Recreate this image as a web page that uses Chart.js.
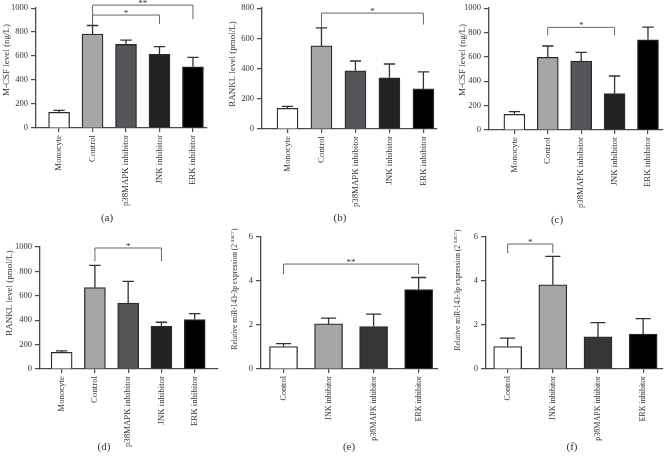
<!DOCTYPE html>
<html lang="en">
<head>
<meta charset="UTF-8">
<title>MAPK inhibitors - M-CSF, RANKL and miR-143-3p</title>
<script src="https://cdn.jsdelivr.net/npm/chart.js"></script>
<style>
    body { margin: 0; background: #ffffff; }
    .panel { position: absolute; }
</style>
</head>
<body>
<canvas id="chartA" class="panel" style="left:0px;top:0px"></canvas>
<canvas id="chartB" class="panel" style="left:225px;top:0px"></canvas>
<canvas id="chartC" class="panel" style="left:450px;top:0px"></canvas>
<canvas id="chartD" class="panel" style="left:0px;top:225px"></canvas>
<canvas id="chartE" class="panel" style="left:225px;top:225px"></canvas>
<canvas id="chartF" class="panel" style="left:450px;top:225px"></canvas>
<script>
// groups
const groups5 = ['Monocyte', 'Control', 'p38MAPK inhibitor', 'JNK inhibitor', 'ERK inhibitor'];
const groups4 = ['Control', 'JNK inhibitor', 'p38MAPK inhibitor', 'ERK inhibitor'];

// (a) M-CSF level (ng/L), mean and upper SD
const mcsfA = [131, 783, 697, 614, 511];
const mcsfASd = [16, 72, 36, 64, 78];
// (b) RANKL level (pmol/L)
const ranklB = [137, 550, 385, 339, 265];
const ranklBSd = [13, 119, 65, 91, 113];
// (c) M-CSF level (ng/L)
const mcsfC = [129, 596, 566, 298, 740];
const mcsfCSd = [21, 93, 71, 145, 104];
// (d) RANKL level (pmol/L)
const ranklD = [137, 667, 541, 350, 405];
const ranklDSd = [11, 183, 178, 33, 49];
// (e) relative miR-143-3p
const mirE = [1.02, 2.05, 1.93, 3.61];
const mirESd = [0.13, 0.26, 0.56, 0.55];
// (f) relative miR-143-3p
const mirF = [1.02, 3.83, 1.46, 1.59];
const mirFSd = [0.38, 1.29, 0.65, 0.70];

// significance brackets: [from, to, level, left end, right end, mark]
const sigA = [[1, 4, 1025, 858, 908, '**'], [1, 3, 942, 858, 867, '*']];
const sigB = [[1, 4, 767, 669, 691, '*']];
const sigC = [[1, 3, 842, 776, 776, '*']];
const sigD = [[1, 3, 992, 883, 883, '*']];
const sigE = [[0, 3, 4.77, 4.31, 4.31, '**']];
const sigF = [[0, 1, 5.68, 5.27, 5.27, '*']];

const fill5 = ['#ffffff', '#a6a6a6', '#55565a', '#222222', '#000000'];
const fill4 = ['#ffffff', '#a6a6a6', '#363638', '#000000'];

const serif = "'Liberation Serif', 'Times New Roman', serif";
const textColor = '#333333';
const axisColor = '#4a4a4a';

const panels = [
    { id: 'chartA', w: 225, h: 232, area: { left: 36, top: 8, right: 207, bottom: 128 }, xMin: -0.69, xMax: 4.42,
      yMax: 1000, yStep: 200, bar: 21, groups: groups5, values: mcsfA, sd: mcsfASd, colors: fill5, sig: sigA,
      title: 'M-CSF level (ng/L)', titleX: 7, titleY: 60, tag: '(a)', tagX: 107, tagY: 218, xFont: 8.8, titleFont: 9 },
    { id: 'chartB', w: 225, h: 232, area: { left: 37, top: 7, right: 212, bottom: 129 }, xMin: -0.75, xMax: 4.40,
      yMax: 800, yStep: 200, bar: 21, groups: groups5, values: ranklB, sd: ranklBSd, colors: fill5, sig: sigB,
      title: 'RANKL level (pmol/L)', titleX: 8, titleY: 64, tag: '(b)', tagX: 115, tagY: 218, xFont: 8.8, titleFont: 9 },
    { id: 'chartC', w: 221, h: 232, area: { left: 39, top: 8, right: 213, bottom: 130 }, xMin: -0.76, xMax: 4.45,
      yMax: 1000, yStep: 200, bar: 21, groups: groups5, values: mcsfC, sd: mcsfCSd, colors: fill5, sig: sigC,
      title: 'M-CSF level (ng/L)', titleX: 13, titleY: 60, tag: '(c)', tagX: 107, tagY: 220, xFont: 8.8, titleFont: 9 },
    { id: 'chartD', w: 225, h: 237, area: { left: 40, top: 22, right: 218, bottom: 144 }, xMin: -0.65, xMax: 4.70,
      yMax: 1000, yStep: 200, bar: 21, groups: groups5, values: ranklD, sd: ranklDSd, colors: fill5, sig: sigD,
      title: 'RANKL level (pmol/L)', titleX: 10, titleY: 68, tag: '(d)', tagX: 104, tagY: 222, xFont: 8.8, titleFont: 9 },
    { id: 'chartE', w: 225, h: 237, area: { left: 36, top: 12, right: 213, bottom: 144 }, xMin: -0.50, xMax: 3.43,
      yMax: 6, yStep: 2, bar: 28, groups: groups4, values: mirE, sd: mirESd, colors: fill4, sig: sigE,
      title: 'Relative miR-143-3p expression (2', sup: '-\u0394\u0394CT', titleEnd: ')', titleX: 10, titleY: 64,
      tag: '(e)', tagX: 124, tagY: 222, xFont: 8, titleFont: 7.5 },
    { id: 'chartF', w: 221, h: 237, area: { left: 36, top: 12, right: 213, bottom: 144 }, xMin: -0.48, xMax: 3.44,
      yMax: 6, yStep: 2, bar: 28, groups: groups4, values: mirF, sd: mirFSd, colors: fill4, sig: sigF,
      title: 'Relative miR-143-3p expression (2', sup: '-\u0394\u0394CT', titleEnd: ')', titleX: 8, titleY: 65,
      tag: '(f)', tagX: 122, tagY: 222, xFont: 8, titleFont: 7.5 }
];

function errorBars(p) {
    return {
        id: 'errorBars',
        afterDatasetsDraw(chart) {
            const y = chart.scales.y;
            const ctx = chart.ctx;
            ctx.save();
            ctx.strokeStyle = '#333333';
            ctx.lineWidth = 1.3;
            chart.getDatasetMeta(0).data.forEach((bar, i) => {
                const top = y.getPixelForValue(p.values[i] + p.sd[i]);
                const half = bar.width * 0.27;
                ctx.beginPath();
                ctx.moveTo(bar.x, bar.y);
                ctx.lineTo(bar.x, top);
                ctx.moveTo(bar.x - half, top);
                ctx.lineTo(bar.x + half, top);
                ctx.stroke();
            });
            ctx.restore();
        }
    };
}

function brackets(p) {
    return {
        id: 'brackets',
        afterDraw(chart) {
            const x = chart.scales.x, y = chart.scales.y;
            const ctx = chart.ctx;
            ctx.save();
            ctx.strokeStyle = '#666666';
            ctx.lineWidth = 1;
            ctx.fillStyle = textColor;
            ctx.font = '9px ' + serif;
            ctx.textAlign = 'center';
            ctx.textBaseline = 'alphabetic';
            p.sig.forEach(s => {
                const x1 = x.getPixelForValue(s[0]), x2 = x.getPixelForValue(s[1]);
                const yl = y.getPixelForValue(s[2]);
                ctx.beginPath();
                ctx.moveTo(x1, y.getPixelForValue(s[3]));
                ctx.lineTo(x1, yl);
                ctx.lineTo(x2, yl);
                ctx.lineTo(x2, y.getPixelForValue(s[4]));
                ctx.stroke();
                ctx.fillText(s[5], (x1 + x2) / 2, yl + 1);
            });
            ctx.restore();
        }
    };
}

function labels(p) {
    return {
        id: 'labels',
        afterDraw(chart) {
            const ctx = chart.ctx;
            ctx.save();
            ctx.fillStyle = textColor;
            // y axis title, rotated
            ctx.translate(p.titleX, p.titleY);
            ctx.rotate(-Math.PI / 2);
            ctx.textBaseline = 'middle';
            ctx.textAlign = 'left';
            const main = p.titleFont + 'px ' + serif;
            const small = (p.titleFont * 0.6) + 'px ' + serif;
            ctx.font = main;
            let total = ctx.measureText(p.title).width;
            if (p.sup) {
                ctx.font = small;
                total += ctx.measureText(p.sup).width;
                ctx.font = main;
                total += ctx.measureText(p.titleEnd).width;
            }
            let pos = -total / 2;
            ctx.font = main;
            ctx.fillText(p.title, pos, 0);
            pos += ctx.measureText(p.title).width;
            if (p.sup) {
                ctx.font = small;
                ctx.fillText(p.sup, pos, -p.titleFont * 0.35);
                pos += ctx.measureText(p.sup).width;
                ctx.font = main;
                ctx.fillText(p.titleEnd, pos, 0);
            }
            ctx.restore();
            // panel tag
            ctx.save();
            ctx.fillStyle = textColor;
            ctx.font = '11px ' + serif;
            ctx.textAlign = 'center';
            ctx.textBaseline = 'middle';
            ctx.fillText(p.tag, p.tagX, p.tagY);
            ctx.restore();
        }
    };
}

function drawPanel(p) {
    const canvas = document.getElementById(p.id);
    canvas.width = p.w;
    canvas.height = p.h;
    new Chart(canvas, {
        type: 'bar',
        data: {
            datasets: [{
                data: p.values.map((v, i) => ({ x: i, y: v })),
                backgroundColor: p.colors,
                borderColor: '#2b2b2b',
                borderWidth: 1.3,
                barThickness: p.bar
            }]
        },
        options: {
            responsive: false,
            animation: false,
            devicePixelRatio: 1,
            layout: { padding: { left: 0, top: p.area.top, right: p.w - p.area.right, bottom: 0 } },
            plugins: { legend: { display: false }, tooltip: { enabled: false } },
            scales: {
                x: {
                    type: 'linear',
                    offset: false,
                    min: p.xMin,
                    max: p.xMax,
                    afterBuildTicks: s => { s.ticks = p.groups.map((g, i) => ({ value: i })); },
                    afterFit: s => { s.height = p.h - p.area.bottom; },
                    grid: { offset: false, drawOnChartArea: false, drawTicks: true, tickLength: 4, color: axisColor, lineWidth: 1.2 },
                    border: { display: true, color: axisColor, width: 1.3 },
                    ticks: {
                        minRotation: 90, maxRotation: 90, autoSkip: false, padding: 3,
                        color: textColor, font: { family: serif, size: p.xFont },
                        callback: v => p.groups[v]
                    }
                },
                y: {
                    min: 0,
                    max: p.yMax,
                    afterFit: s => { s.width = p.area.left; },
                    grid: { drawOnChartArea: false, drawTicks: true, tickLength: 5, color: axisColor, lineWidth: 1.2 },
                    border: { display: true, color: axisColor, width: 1.3 },
                    ticks: { stepSize: p.yStep, padding: 3, color: textColor, font: { family: serif, size: 8.5 },
                             callback: v => String(v) }
                }
            }
        },
        plugins: [errorBars(p), brackets(p), labels(p)]
    });
}

panels.forEach(drawPanel);
</script>
</body>
</html>
